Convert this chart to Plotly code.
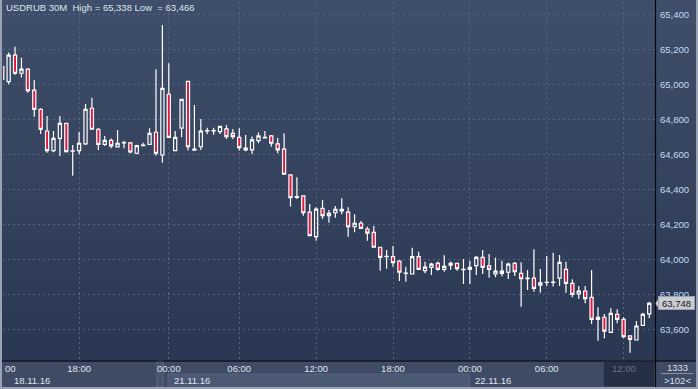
import plotly.graph_objects as go

# ---------------- data (USDRUB, 30-minute candles) ----------------
candle_idx = list(range(102))
opens = [65101, 65015, 65167, 65063, 65086, 64967, 64857, 64733, 64621, 64691,
         64777, 64619, 64621, 64659, 64863, 64743, 64657, 64680, 64642, 64665,
         64665, 64606, 64649, 64657, 64726, 64596, 64943, 64621, 64749, 65017,
         64629, 64643, 64733, 64735, 64729, 64745, 64720, 64697, 64636, 64625,
         64678, 64694, 64705, 64659, 64629, 64482, 64354, 64362, 64269, 64129,
         64291, 64249, 64266, 64286, 64269, 64186, 64206, 64173, 64154, 64069,
         64015, 64015, 63990, 63921, 63916, 64015, 63935, 63954, 63977, 63943,
         63966, 63977, 63941, 63943, 63964, 64011, 63962, 63916, 63920, 63926,
         63977, 63920, 63892, 63892, 63853, 63868, 63868, 63892, 63943, 63863,
         63802, 63819, 63783, 63657, 63669, 63583, 63686, 63657, 63562, 63539,
         63623, 63688]
highs = [65105, 65181, 65215, 65152, 65092, 65025, 64863, 64819, 64733, 64819,
         64780, 64653, 64729, 64887, 64923, 64750, 64705, 64690, 64739, 64678,
         64670, 64655, 64666, 64749, 65086, 65338, 65120, 64733, 64914, 65017,
         64882, 64802, 64752, 64752, 64762, 64767, 64745, 64749, 64710, 64701,
         64724, 64733, 64710, 64693, 64720, 64486, 64469, 64366, 64316, 64297,
         64339, 64282, 64305, 64349, 64297, 64257, 64219, 64186, 64190, 64069,
         64053, 64076, 63995, 63958, 64066, 64043, 63986, 63980, 63988, 64023,
         63987, 63981, 64002, 63992, 64019, 64053, 64030, 64009, 63992, 63981,
         63985, 63983, 63939, 64057, 63945, 64019, 64038, 64025, 63986, 63886,
         63847, 63847, 63939, 63726, 63687, 63720, 63714, 63669, 63562, 63647,
         63695, 63757]
lows = [65020, 65000, 65055, 65038, 64952, 64815, 64716, 64609, 64611, 64590,
        64610, 64478, 64600, 64653, 64743, 64625, 64647, 64634, 64640, 64634,
        64606, 64600, 64649, 64655, 64592, 64552, 64697, 64621, 64697, 64621,
        64623, 64625, 64716, 64712, 64716, 64687, 64687, 64621, 64617, 64602,
        64663, 64690, 64643, 64606, 64486, 64301, 64345, 64249, 64135, 64106,
        64230, 64209, 64238, 64257, 64129, 64154, 64177, 64106, 64066, 63935,
        63946, 63958, 63876, 63872, 63913, 63943, 63920, 63910, 63935, 63929,
        63941, 63935, 63859, 63859, 63910, 63916, 63895, 63897, 63903, 63888,
        63905, 63729, 63825, 63815, 63809, 63847, 63845, 63847, 63809, 63783,
        63775, 63749, 63630, 63535, 63549, 63583, 63634, 63549, 63466, 63539,
        63623, 63663]
closes = [65029, 65167, 65063, 65086, 64963, 64857, 64743, 64621, 64691, 64777,
          64615, 64618, 64663, 64857, 64743, 64657, 64680, 64648, 64663, 64667,
          64613, 64649, 64653, 64720, 64606, 64977, 64697, 64697, 64914, 64643,
          64623, 64733, 64735, 64733, 64760, 64701, 64701, 64638, 64625, 64682,
          64705, 64697, 64663, 64625, 64486, 64352, 64358, 64266, 64135, 64287,
          64249, 64263, 64286, 64276, 64186, 64206, 64177, 64149, 64069, 64011,
          64017, 63981, 63926, 63920, 64015, 63943, 63955, 63973, 63943, 63960,
          63977, 63947, 63943, 63954, 64011, 63954, 63943, 63933, 63933, 63973,
          63929, 63889, 63890, 63834, 63866, 63869, 63870, 63983, 63863, 63800,
          63819, 63775, 63657, 63669, 63590, 63691, 63657, 63558, 63543, 63619,
          63686, 63748]

symbol_name = "USDRUB 30M"
y_tick_values = [63600, 63800, 64000, 64200, 64400, 64600, 64800, 65000, 65200, 65400]
x_tick_pos = [12, 26, 37, 49, 61, 73, 85, 97]
x_tick_text = ["18:00", "00:00", "06:00", "12:00", "18:00", "00:00", "06:00", ""]
date_pos = [26, 73]
date_text = ["21.11.16", "22.11.16"]
first_date = "18.11.16"
bars_total = "1333"
bars_visible = ">102<"

# ---------------- geometry helpers (pixels -> paper) ----------------
W, H = 698, 389
ML, MR, MT, MB = 3, 43, 2, 28
PW, PH = W - ML - MR, H - MT - MB
Y_RANGE = [63419, 65470]


def px(x):
    return (x - ML) / PW


def py(y):
    return (H - MB - y) / PH


FONT = "Liberation Sans, Arial, sans-serif"
RED = "#e3173e"
TXT = "#dfe6f0"

fig = go.Figure()
fig.add_trace(go.Candlestick(
    x=candle_idx, open=opens, high=highs, low=lows, close=closes,
    increasing=dict(line=dict(color="#ffffff", width=1.2), fillcolor="rgba(0,0,0,0)"),
    decreasing=dict(line=dict(color="#ffffff", width=1.2), fillcolor=RED),
    whiskerwidth=0, showlegend=False, hoverinfo="skip",
))

shapes = []
# vertical gradient background for plot + right axis panel
top_c = (0x3f, 0x4e, 0x6a)
bot_c = (0x2a, 0x37, 0x52)
n = 60
for k in range(n):
    y0 = 361 * k / n
    y1 = 361 * (k + 1) / n
    t = (k + 0.5) / n
    c = tuple(round(top_c[j] + (bot_c[j] - top_c[j]) * t) for j in range(3))
    shapes.append(dict(type="rect", xref="paper", yref="paper",
                       x0=px(0), x1=px(W), y0=py(y1 + 0.5), y1=py(y0),
                       fillcolor="rgb(%d,%d,%d)" % c, line=dict(width=0), layer="below"))

# bottom axis panel details
shapes.append(dict(type="rect", xref="paper", yref="paper", x0=px(168), x1=px(469.5),
                   y0=py(387), y1=py(374), fillcolor="#4b5974",
                   line=dict(color="#56647e", width=1), layer="below"))
shapes.append(dict(type="rect", xref="paper", yref="paper", x0=px(157), x1=px(163),
                   y0=py(387), y1=py(361), fillcolor="#47546e",
                   line=dict(color="#5b6883", width=1), layer="below"))
shapes.append(dict(type="rect", xref="paper", yref="paper", x0=px(603), x1=px(655),
                   y0=py(387), y1=py(361), fillcolor="#253047",
                   line=dict(color="#4a5670", width=1), layer="below"))
# right panel separator under "1333"
shapes.append(dict(type="line", xref="paper", yref="paper", x0=px(661), x1=px(693),
                   y0=py(373.5), y1=py(373.5), line=dict(color="#8792a6", width=1)))
# black frame lines
shapes.append(dict(type="line", xref="paper", yref="paper", x0=px(655.5), x1=px(655.5),
                   y0=py(389), y1=py(0), line=dict(color="#05070a", width=1.2)))
shapes.append(dict(type="line", xref="paper", yref="paper", x0=px(0), x1=px(W),
                   y0=py(361), y1=py(361), line=dict(color="#05070a", width=1.2)))
# light outer border
for (x0, x1, y0, y1) in [(0, 2, 0, 389), (696, 698, 0, 389), (0, 698, 387, 389)]:
    shapes.append(dict(type="rect", xref="paper", yref="paper", x0=px(x0), x1=px(x1),
                       y0=py(y1), y1=py(y0), fillcolor="#9aa3b3", line=dict(width=0)))

last_close = closes[-1]

annotations = []
annotations.append(dict(
    xref="paper", yref="paper", x=px(4), y=py(8), xanchor="left", yanchor="middle",
    text=f"{symbol_name}\u00a0 High = {max(highs):,} Low \u00a0= {min(lows):,}",
    showarrow=False, font=dict(family=FONT, size=9.5, color=TXT)))
# partial first time label
annotations.append(dict(xref="paper", yref="paper", x=px(3), y=py(368), xanchor="left",
                        yanchor="middle", text="00", showarrow=False,
                        font=dict(family=FONT, size=9.5, color=TXT)))
# dimmed last time label
annotations.append(dict(xref="x", yref="paper", x=x_tick_pos[-1], y=py(368), xanchor="center",
                        yanchor="middle", text="12:00", showarrow=False,
                        font=dict(family=FONT, size=9.5, color="#66738c")))
# date labels
annotations.append(dict(xref="paper", yref="paper", x=px(12), y=py(380.5), xanchor="left",
                        yanchor="middle", text=first_date, showarrow=False,
                        font=dict(family=FONT, size=9.5, color=TXT)))
for p, t in zip(date_pos, date_text):
    annotations.append(dict(xref="x", yref="paper", x=p, xshift=3, y=py(380.5), xanchor="left",
                            yanchor="middle", text=t, showarrow=False,
                            font=dict(family=FONT, size=9.5, color=TXT)))
# right bottom panel
annotations.append(dict(xref="paper", yref="paper", x=px(677), y=py(367.5), xanchor="center",
                        yanchor="middle", text=bars_total, showarrow=False,
                        font=dict(family=FONT, size=9.5, color="#d6dfec")))
annotations.append(dict(xref="paper", yref="paper", x=px(677), y=py(380.5), xanchor="center",
                        yanchor="middle", text=bars_visible, showarrow=False,
                        font=dict(family=FONT, size=9.5, color="#d6dfec")))
# last price tag
annotations.append(dict(xref="paper", yref="y", x=px(676.5), y=last_close, xanchor="center",
                        yanchor="middle", text=f"{last_close:,}", showarrow=False,
                        width=35, height=12, bgcolor="#c9ccd2", bordercolor="#9da1a8",
                        borderwidth=1, borderpad=0,
                        font=dict(family=FONT, size=9.5, color="#141414")))

fig.update_layout(
    width=W, height=H,
    margin=dict(l=ML, r=MR, t=MT, b=MB, pad=0),
    paper_bgcolor="#3f4b65", plot_bgcolor="rgba(0,0,0,0)",
    shapes=shapes, annotations=annotations,
    boxgap=0.3,
    xaxis=dict(range=[0.12, 101.9], tickmode="array", tickvals=x_tick_pos, ticktext=x_tick_text,
               showgrid=True, gridcolor="#56657f", griddash="2px,3px", gridwidth=1,
               zeroline=False, showline=False, ticks="", rangeslider=dict(visible=False),
               tickfont=dict(family=FONT, size=9.5, color=TXT), fixedrange=True),
    yaxis=dict(range=Y_RANGE, side="right", tickmode="array", tickvals=y_tick_values,
               tickformat=",d", showgrid=True, gridcolor="#56657f", griddash="2px,3px",
               gridwidth=1, zeroline=False, showline=False, ticks="", ticklabelstandoff=4,
               tickfont=dict(family=FONT, size=9.5, color="#c6daf3"), fixedrange=True),
)

# pointer triangle of the price tag
half = 6 * (Y_RANGE[1] - Y_RANGE[0]) / PH
fig.add_shape(type="path", xref="paper", yref="y",
              path=f"M {px(655.5)} {last_close} L {px(659)} {last_close + half} "
                   f"L {px(659)} {last_close - half} Z",
              fillcolor="#c9ccd2", line=dict(width=0))

fig.write_html("out.html", config={"displayModeBar": False},
               post_script="document.body.style.margin='0';document.body.style.overflow='hidden';")
